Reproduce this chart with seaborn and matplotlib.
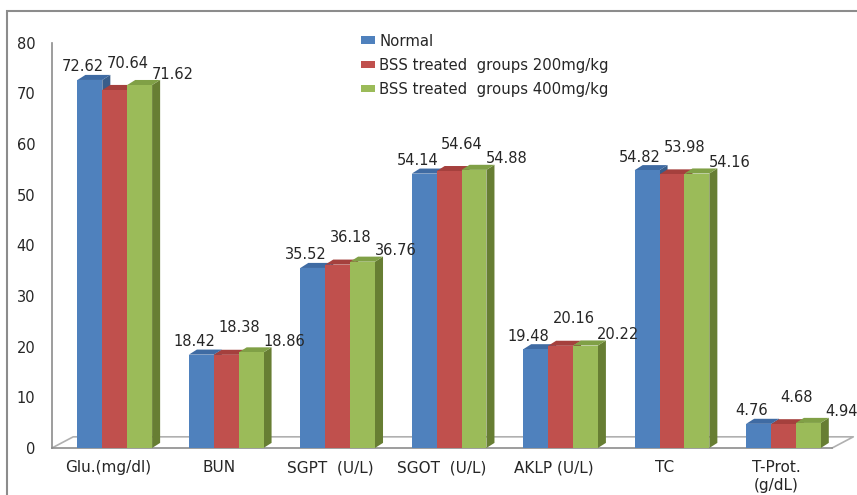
import numpy as np
import pandas as pd
import matplotlib
matplotlib.use("Agg")
import matplotlib.pyplot as plt
from matplotlib.patches import Polygon, Patch, Rectangle
import seaborn as sns

# chart data
categories = ["Glu.(mg/dl)", "BUN", "SGPT  (U/L)", "SGOT  (U/L)", "AKLP (U/L)", "TC", "T-Prot.\n(g/dL)"]
groups = ["Normal", "BSS treated  groups 200mg/kg", "BSS treated  groups 400mg/kg"]
normal = [72.62, 18.42, 35.52, 54.14, 19.48, 54.82, 4.76]
bss_200 = [70.64, 18.38, 36.18, 54.64, 20.16, 53.98, 4.68]
bss_400 = [71.62, 18.86, 36.76, 54.88, 20.22, 54.16, 4.94]

front_colors = ["#4F81BD", "#C0504D", "#9BBB59"]
side_colors = ["#385D8A", "#8C3836", "#677E33"]
top_colors = ["#3F6BA3", "#A5403D", "#80A046"]

df = pd.DataFrame({
    "test": categories * 3,
    "value": normal + bss_200 + bss_400,
    "group": [g for g in groups for _ in categories],
})

sns.set_style("white")
plt.rcParams["font.family"] = ["DejaVu Sans"]

fig = plt.figure(figsize=(8.57, 4.95), dpi=100)
ax = fig.add_axes([0.0607, 0.095, 0.9103, 0.819])

sns.barplot(data=df, x="test", y="value", hue="group", order=categories,
            hue_order=groups, palette=front_colors, saturation=1,
            width=0.67, errorbar=None, legend=False, ax=ax)

ax.set_xlim(-0.5, 6.5)
ax.set_ylim(0, 80)

# fake 3D depth like the excel chart
dx, dy = 0.072, 1.0
shift = 0.063
label_off = [(-7, 13), (13, 27), (33, 11)]
bars = [p for p in ax.patches if isinstance(p, Rectangle)]
for k, bar in enumerate(bars):
    i = k // len(categories)
    bar.set_x(bar.get_x() + shift)
    bar.set_linewidth(0)
    bar.set_zorder(3 + 3 * i + 2)
    x0 = bar.get_x()
    x1 = x0 + bar.get_width()
    h = bar.get_height()
    side = Polygon([(x1, 0), (x1 + dx, dy), (x1 + dx, h + dy), (x1, h)],
                   closed=True, facecolor=side_colors[i], edgecolor="none",
                   zorder=3 + 3 * i, clip_on=False)
    top = Polygon([(x0, h), (x0 + dx, h + dy), (x1 + dx, h + dy), (x1, h)],
                  closed=True, facecolor=top_colors[i], edgecolor="none",
                  zorder=3 + 3 * i + 1, clip_on=False)
    ax.add_patch(side)
    ax.add_patch(top)
    ox, oy = label_off[i]
    ax.annotate(f"{h:.2f}", xy=((x0 + x1) / 2, h), xytext=(ox, oy),
                textcoords="offset pixels", ha="center", va="center",
                fontsize=10.5, color="#262626", zorder=20)

# floor of the 3D plot
grey = "#8C8C8C"
fdx, fdy = 0.19, 2.2
ax.plot([-0.5, -0.5 + fdx, 6.5 + fdx, 6.5], [0, fdy, fdy, 0],
        color="#B0B0B0", lw=1.2, clip_on=False, zorder=1)

sns.despine(ax=ax, top=True, right=True)
for s in ["left", "bottom"]:
    ax.spines[s].set_color(grey)
    ax.spines[s].set_linewidth(1.2)

ax.set_yticks(np.arange(0, 81, 10))
ax.set_xticks(range(len(categories)))
ax.set_xticklabels(categories)
ax.set_xticks(np.arange(-0.5, 7, 1), minor=True)
ax.tick_params(axis="x", which="major", length=0, pad=9, labelsize=11, labelcolor="#262626")
ax.tick_params(axis="x", which="minor", length=6, color=grey, width=1.2, direction="out")
ax.tick_params(axis="y", length=6, color=grey, width=1.2, direction="out",
               labelsize=10.5, labelcolor="#262626", pad=6)
ax.set_xlabel("")
ax.set_ylabel("")

handles = [Patch(facecolor=c, edgecolor="none") for c in front_colors]
ax.legend(handles, groups, loc="upper left", bbox_to_anchor=(0.388, 1.037),
          frameon=False, fontsize=10.7, handlelength=0.95, handleheight=0.42,
          handletextpad=0.3, labelspacing=0.62, borderaxespad=0)

# outer chart border
fig.add_artist(Rectangle((7 / 857, -0.1), 1.2, 1.1 - 10.5 / 495,
                         transform=fig.transFigure, fill=False,
                         edgecolor=grey, lw=1.5))

fig.savefig("out.png", dpi=100)
